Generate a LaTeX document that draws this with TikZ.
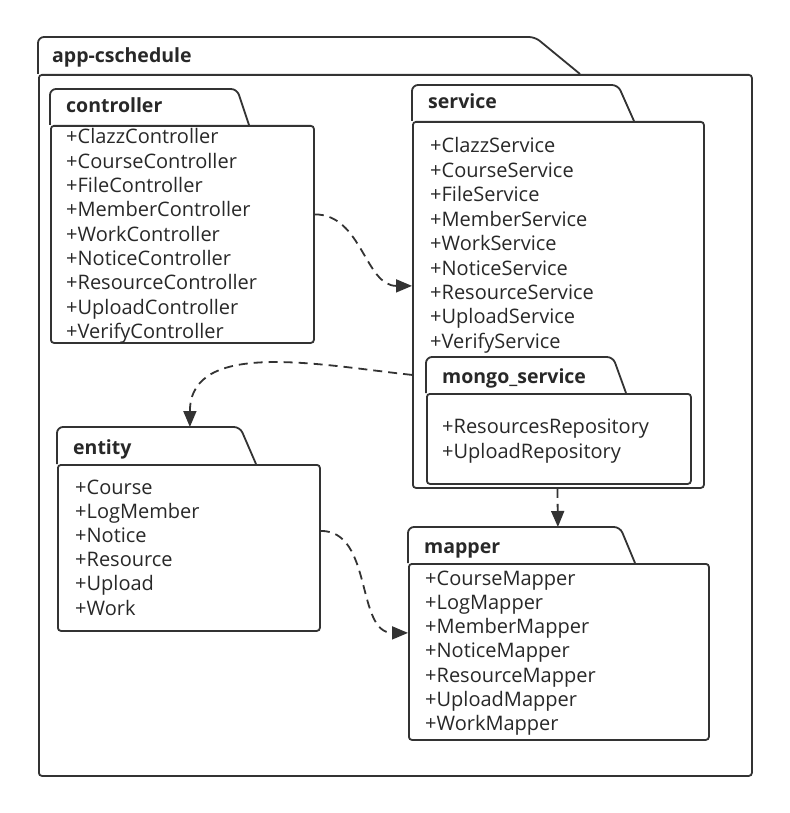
\documentclass[tikz,border=0pt]{standalone}
\usepackage{fontspec}
\setmainfont{Open Sans}
\usetikzlibrary{arrows.meta,positioning,calc}
\definecolor{pkgline}{RGB}{51,51,51}
\definecolor{pkgtext}{RGB}{40,40,40}

\tikzset{
  pkgbody/.style={draw=pkgline,line width=1.8pt,rounded corners=3pt,fill=white,anchor=north west,inner sep=0pt},
  pkgtab/.style={draw=pkgline,line width=1.8pt,fill=white,rounded corners=6pt},
  pkgtitle/.style={anchor=west,inner sep=0pt,font=\bfseries\fontsize{19.5}{22}\selectfont,text=pkgtext,text height=16pt,text depth=4pt},
  item/.style={anchor=west,inner sep=0pt,font=\fontsize{20}{22}\selectfont,text=pkgtext,text height=16pt,text depth=4pt},
  dep/.style={draw=pkgline,line width=1.8pt,dash pattern=on 9pt off 6pt,-{Triangle[length=16pt,width=13pt]}}
}

\begin{document}
\begin{tikzpicture}[x=1pt,y=-1pt]
  \useasboundingbox (0,0) rectangle (789,813);

  % outer package
  \draw[pkgtab] (38,74) -- (38,37) -- (535,37) -- (580,74);
  \node[pkgbody,minimum width=713,minimum height=701] (app) at (38,74) {};
  \node[pkgtitle] (app-title) at (52,57) {app-cschedule};

  % controller
  \draw[pkgtab] (50,125) -- (50,89) -- (237,89) -- (249,125);
  \node[pkgbody,minimum width=263,minimum height=217] (ctrl) at (50,125) {};
  \node[pkgtitle] (ctrl-title) at (66,107) {controller};
  \foreach \name [count=\i from 0] in {ClazzController,CourseController,FileController,MemberController,WorkController,NoticeController,ResourceController,UploadController,VerifyController}
    \node[item] (ctrl-\i) at (66,138+24.3*\i) {+\name};

  % service
  \draw[pkgtab] (412,121) -- (412,85) -- (618,85) -- (634,121);
  \node[pkgbody,minimum width=291,minimum height=366] (srv) at (412,121) {};
  \node[pkgtitle] (srv-title) at (428,103) {service};
  \foreach \name [count=\i from 0] in {ClazzService,CourseService,FileService,MemberService,WorkService,NoticeService,ResourceService,UploadService,VerifyService}
    \node[item] (srv-\i) at (430,147+24.4*\i) {+\name};

  % mongo_service inside service
  \draw[pkgtab] (426,393) -- (426,357) -- (613,357) -- (626,393);
  \node[pkgbody,minimum width=264,minimum height=90] (mongo) at (426,393) {};
  \node[pkgtitle] (mongo-title) at (442,377) {mongo\_service};
  \node[item] (mongo-0) at (442,427) {+ResourcesRepository};
  \node[item] (mongo-1) at (442,452) {+UploadRepository};

  % entity
  \draw[pkgtab] (57,464) -- (57,427) -- (240,427) -- (256,464);
  \node[pkgbody,minimum width=262,minimum height=166] (ent) at (57,464) {};
  \node[pkgtitle] (ent-title) at (73,448) {entity};
  \foreach \name [count=\i from 0] in {Course,LogMember,Notice,Resource,Upload,Work}
    \node[item] (ent-\i) at (75,488+24.2*\i) {+\name};

  % mapper
  \draw[pkgtab] (408,563) -- (408,527) -- (620,527) -- (635,563);
  \node[pkgbody,minimum width=300,minimum height=176] (map) at (408,563) {};
  \node[pkgtitle] (map-title) at (424,547) {mapper};
  \foreach \name [count=\i from 0] in {CourseMapper,LogMapper,MemberMapper,NoticeMapper,ResourceMapper,UploadMapper,WorkMapper}
    \node[item] (map-\i) at (425,579+24.3*\i) {+\name};

  % dependencies
  \draw[dep] ([yshift=20pt]ctrl.east) to[out=0,in=180] ([yshift=19pt]srv.west);
  \draw[dep] ([yshift=-70pt]srv.west) to[out=174,in=90] ([xshift=1pt,yshift=37pt]ent.north);
  \draw[dep] ([xshift=-1pt]srv.south) -- ([xshift=-1pt,yshift=36pt]map.north);
  \draw[dep] ([yshift=17pt]ent.east) to[out=0,in=180] ([yshift=19pt]map.west);
\end{tikzpicture}
\end{document}
